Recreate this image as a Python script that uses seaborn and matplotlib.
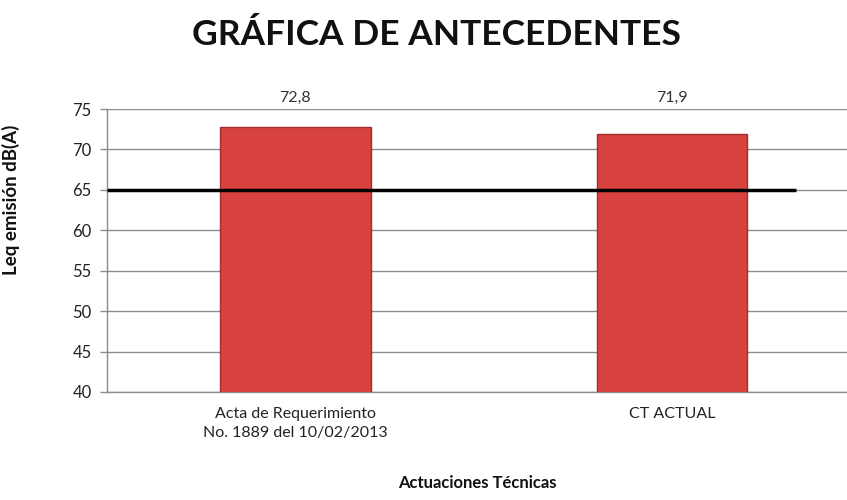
import pandas as pd
import matplotlib
matplotlib.use("Agg")
import matplotlib.pyplot as plt
import seaborn as sns

categories = ["Acta de Requerimiento\nNo. 1889 del 10/02/2013", "CT ACTUAL"]
values = [72.8, 71.9]
value_labels = ["72,8", "71,9"]
limit = 65
yticks = [40, 45, 50, 55, 60, 65, 70, 75]

sns.set_theme(style="white")
plt.rcParams["font.family"] = ["Lato", "DejaVu Sans"]

df = pd.DataFrame({"cat": categories, "val": values})

fig = plt.figure(figsize=(8.47, 5.0), dpi=100)
ax = fig.add_axes([107 / 847, 0.216, 740 / 847, 0.566])

sns.barplot(data=df, x="cat", y="val", color="#D7423E", width=0.4,
            edgecolor="#9E2F2C", linewidth=1.0, saturation=1, ax=ax, zorder=3)

ax.set_ylim(40, 75)
ax.set_xlim(-0.5, 1.465)
ax.set_yticks(yticks)
ax.yaxis.grid(True, color="#8c8c8c", linewidth=1.0, zorder=0)
ax.set_axisbelow(True)

# limit line
ax.hlines(limit, -0.5, 1.33, color="black", linewidth=2.5, zorder=4)

for i, (v, lab) in enumerate(zip(values, value_labels)):
    ax.text(i, 76.4, lab, ha="center", va="center", fontsize=11.5,
            color="#333333", clip_on=False)

for side in ["top", "right"]:
    ax.spines[side].set_visible(False)
for side in ["left", "bottom"]:
    ax.spines[side].set_color("#8c8c8c")
    ax.spines[side].set_linewidth(1.0)

ax.set_xticks([0, 1])
ax.set_xticklabels(categories, fontsize=11.5, color="#222222", linespacing=1.45)
ax.set_xticks([0.5], minor=True)
ax.tick_params(axis="x", which="major", length=0, pad=11)
ax.tick_params(axis="x", which="minor", length=6, color="#8c8c8c", width=1)
ax.tick_params(axis="y", length=5, color="#8c8c8c", width=1, left=True,
               labelsize=12, labelcolor="#222222", pad=6)

ax.set_xlabel("Actuaciones Técnicas", fontsize=12, fontweight="bold",
              color="#111111", labelpad=25)
ax.set_ylabel("Leq emisión dB(A)", fontsize=13.5, fontweight="bold",
              color="#111111")
ax.yaxis.set_label_coords(-0.118, 0.68)

fig.suptitle("GRÁFICA DE ANTECEDENTES", fontsize=25.5, fontweight="bold",
             color="#111111", x=0.515, y=0.962)

fig.savefig("out.png", dpi=100)
plt.close(fig)
